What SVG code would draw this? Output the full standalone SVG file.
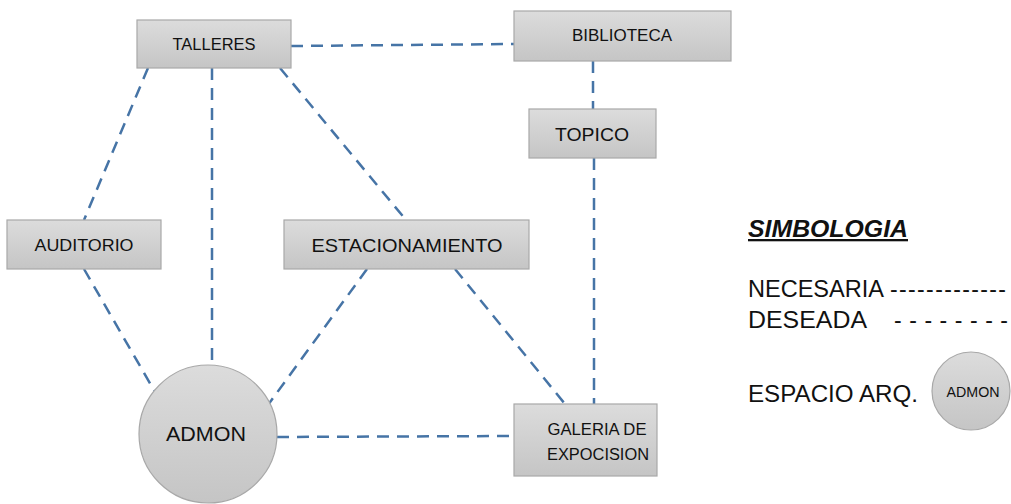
<svg xmlns="http://www.w3.org/2000/svg" width="1011" height="504" viewBox="0 0 1011 504">
<defs>
<linearGradient id="g" x1="0" y1="0" x2="0" y2="1">
<stop offset="0" stop-color="#dcdcdc"/>
<stop offset="1" stop-color="#c5c5c5"/>
</linearGradient>
<style>
.n{fill:url(#g);stroke:#a8a8a8;stroke-width:1.2}
.t{font-family:"Liberation Sans",Arial,sans-serif;font-size:16px;fill:#111;text-anchor:middle}
.c{stroke:#4674a6;stroke-width:2.5;stroke-dasharray:12,8;fill:none}
.l{font-family:"Liberation Sans",Arial,sans-serif;font-size:23px;fill:#111}
</style>
</defs>
<rect width="1011" height="504" fill="#fff"/>
<g id="connectors">
<line class="c" x1="291" y1="46" x2="514" y2="44"/>
<line class="c" x1="148" y1="68" x2="84" y2="220"/>
<line class="c" x1="212" y1="68" x2="212" y2="364"/>
<line class="c" x1="280" y1="68" x2="406" y2="220"/>
<line class="c" x1="84" y1="269" x2="155" y2="392"/>
<line class="c" x1="367" y1="269" x2="268" y2="405"/>
<line class="c" x1="455" y1="269" x2="565" y2="404"/>
<line class="c" x1="593" y1="61" x2="593" y2="109"/>
<line class="c" x1="594" y1="158" x2="594" y2="404"/>
<line class="c" x1="277" y1="437" x2="514" y2="436"/>
</g>
<g id="talleres"><rect class="n" x="137" y="20" width="154" height="48"/><text class="t" x="214" y="50" textLength="83" lengthAdjust="spacingAndGlyphs">TALLERES</text></g>
<g id="biblioteca"><rect class="n" x="514" y="11" width="217" height="50"/><text class="t" x="622" y="41" textLength="100" lengthAdjust="spacingAndGlyphs">BIBLIOTECA</text></g>
<g id="topico"><rect class="n" x="529" y="109" width="127" height="49"/><text class="t" x="592" y="141" style="font-size:19px" textLength="74" lengthAdjust="spacingAndGlyphs">TOPICO</text></g>
<g id="auditorio"><rect class="n" x="7" y="220" width="154" height="49"/><text class="t" x="84" y="251" style="font-size:17px" textLength="99" lengthAdjust="spacingAndGlyphs">AUDITORIO</text></g>
<g id="estacionamiento"><rect class="n" x="284" y="220" width="245" height="49"/><text class="t" x="407" y="252" style="font-size:19px" textLength="191" lengthAdjust="spacingAndGlyphs">ESTACIONAMIENTO</text></g>
<g id="admon"><circle class="n" cx="208" cy="434" r="69"/><text class="t" x="206" y="441" style="font-size:21px" textLength="80" lengthAdjust="spacingAndGlyphs">ADMON</text></g>
<g id="galeria"><rect class="n" x="514" y="404" width="143" height="72"/><text class="t" x="597" y="435" textLength="99" lengthAdjust="spacingAndGlyphs">GALERIA DE</text><text class="t" x="598" y="460" textLength="102" lengthAdjust="spacingAndGlyphs">EXPOCISION</text></g>
<g id="legend">
<text class="l" x="748" y="237" style="font-weight:bold;font-style:italic;text-decoration:underline" textLength="160" lengthAdjust="spacingAndGlyphs">SIMBOLOGIA</text>
<text class="l" x="748" y="297" textLength="136" lengthAdjust="spacingAndGlyphs">NECESARIA</text>
<text class="l" x="890" y="297" textLength="116" lengthAdjust="spacing">-------------</text>
<text class="l" x="748" y="328" textLength="119" lengthAdjust="spacingAndGlyphs">DESEADA</text>
<text class="l" x="894" y="328" textLength="114" lengthAdjust="spacing">- - - - - - - -</text>
<text class="l" x="748" y="402" textLength="170" lengthAdjust="spacingAndGlyphs">ESPACIO ARQ.</text>
<circle class="n" cx="971" cy="391" r="39"/>
<text class="t" x="973" y="397" style="font-size:14px" textLength="53" lengthAdjust="spacingAndGlyphs">ADMON</text>
</g>
</svg>
